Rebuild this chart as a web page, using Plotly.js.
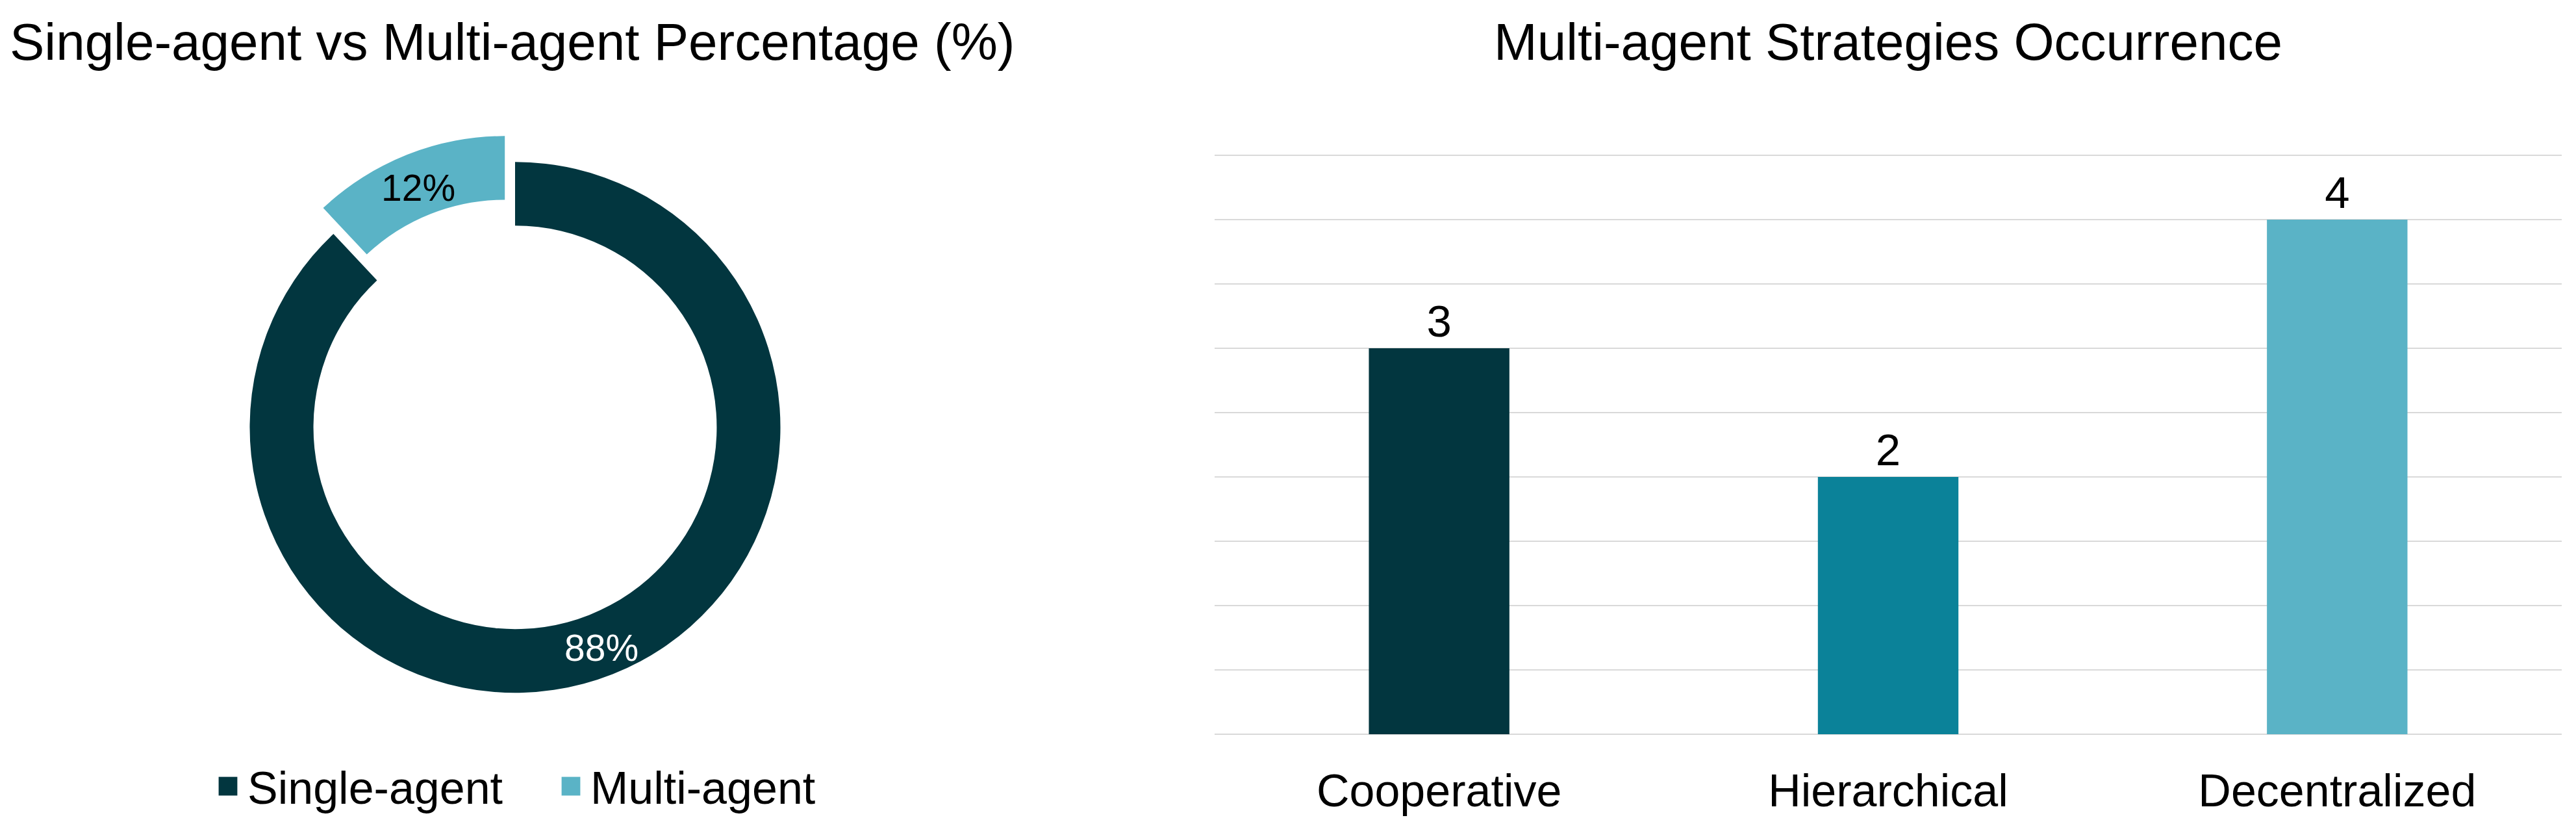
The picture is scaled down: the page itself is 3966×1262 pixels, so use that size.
<!DOCTYPE html>
<html>
<head>
<meta charset="utf-8">
<script src="https://cdn.plot.ly/plotly-3.0.1.min.js"></script>
<style>
  html, body { margin: 0; padding: 0; background: #ffffff; }
  #chart { width: 3966px; height: 1262px; }
</style>
</head>
<body>
<div id="chart"></div>
<script>
// ---- data ----
const pieLabels = ["Single-agent", "Multi-agent"];
const pieValues = [88, 12];
const pieColors = ["#02363F", "#5AB3C6"];
const pieTextColors = ["#ffffff", "#000000"];
const piePull = [0, 0.105];

const barCategories = ["Cooperative", "Hierarchical", "Decentralized"];
const barValues = [3, 2, 4];
const barColors = ["#02363F", "#0B8299", "#5AB3C6"];

const leftTitle = "Single-agent vs Multi-agent Percentage (%)";
const rightTitle = "Multi-agent Strategies Occurrence";

// ---- layout ----
const W = 3966, H = 1262;
const FONT = "Liberation Sans, Arial, Helvetica, sans-serif";
const HOLE = 0.76;
const pieDomX = [293 / W, 1293 / W];
const pieDomY = [1 - 1118 / H, 1 - 208 / H];

const pieTrace = {
  type: "pie",
  labels: pieLabels,
  values: pieValues,
  marker: { colors: pieColors, line: { width: 0 } },
  hole: HOLE,
  pull: piePull,
  sort: false,
  direction: "clockwise",
  rotation: 0,
  textinfo: "none",
  domain: { x: pieDomX, y: pieDomY },
  showlegend: true,
  hoverinfo: "label+percent"
};

const barTrace = {
  type: "bar",
  x: barCategories,
  y: barValues,
  marker: { color: barColors },
  text: barValues.map(String),
  textposition: "outside",
  textfont: { family: FONT, size: 69, color: "#000000" },
  cliponaxis: false,
  showlegend: false,
  xaxis: "x",
  yaxis: "y"
};

// percent labels placed at the middle of each ring segment (same geometry Plotly uses for the pie)
function pieLabelAnnotations() {
  const boxW = W * (pieDomX[1] - pieDomX[0]);
  const boxH = H * (pieDomY[1] - pieDomY[0]);
  const maxPull = Math.max.apply(null, piePull);
  const r = Math.min(boxW, boxH) / (2 + 2 * maxPull);
  const cx = W * (pieDomX[0] + pieDomX[1]) / 2;
  const cy = H * (1 - pieDomY[0]) - boxH / 2;
  const total = pieValues.reduce(function (a, b) { return a + b; }, 0);
  let cum = 0;
  return pieValues.map(function (v, i) {
    const mid = (cum + v / 2) / total * 2 * Math.PI;
    cum += v;
    const pr = r * (1 + HOLE) / 2 + piePull[i] * r;
    const px = cx + pr * Math.sin(mid);
    const py = cy - pr * Math.cos(mid);
    return {
      text: Math.round(v / total * 100) + "%",
      xref: "paper", yref: "paper",
      x: px / W, y: 1 - py / H,
      xanchor: "center", yanchor: "middle",
      yshift: -5,
      showarrow: false,
      font: { family: FONT, size: 57, color: pieTextColors[i] }
    };
  });
}

const layout = {
  width: W,
  height: H,
  margin: { l: 0, r: 0, t: 0, b: 0, pad: 0 },
  paper_bgcolor: "#ffffff",
  plot_bgcolor: "#ffffff",
  font: { family: FONT, size: 70, color: "#000000" },
  bargap: 0.687,
  xaxis: {
    domain: [1870 / W, 3944 / W],
    showgrid: false,
    zeroline: false,
    showline: false,
    ticks: "",
    tickfont: { family: FONT, size: 70, color: "#000000" },
    ticklabelstandoff: 40
  },
  yaxis: {
    domain: [1 - 1139 / H, 1 - 141 / H],
    range: [0, 5],
    dtick: 0.5,
    showticklabels: false,
    showgrid: true,
    gridcolor: "#d9d9d9",
    gridwidth: 2,
    zeroline: true,
    zerolinecolor: "#d9d9d9",
    zerolinewidth: 2,
    showline: false,
    ticks: ""
  },
  showlegend: true,
  legend: {
    orientation: "h",
    x: 321 / W,
    xanchor: "left",
    y: 1 - 1220 / H,
    yanchor: "middle",
    font: { family: FONT, size: 70, color: "#000000" },
    bgcolor: "rgba(0,0,0,0)",
    borderwidth: 0,
    itemwidth: 50,
    entrywidth: 463,
    traceorder: "normal"
  },
  annotations: [
    {
      text: leftTitle, xref: "paper", yref: "paper",
      x: 13 / W, xanchor: "left", y: 1 - 65 / H, yanchor: "middle",
      showarrow: false, font: { family: FONT, size: 80, color: "#000000" }
    },
    {
      text: rightTitle, xref: "paper", yref: "paper",
      x: 2907 / W, xanchor: "center", y: 1 - 65 / H, yanchor: "middle",
      showarrow: false, font: { family: FONT, size: 80, color: "#000000" }
    }
  ].concat(pieLabelAnnotations())
};

Plotly.newPlot("chart", [pieTrace, barTrace], layout, { staticPlot: true, displayModeBar: false })
  .then(function () {
    // enlarge the pie legend swatches to match the reference size
    document.querySelectorAll("#chart .legend .legendpoints path").forEach(function (p) {
      const t = p.getAttribute("transform") || "";
      p.setAttribute("transform", t + " scale(2.4)");
    });
  });
</script>
</body>
</html>
